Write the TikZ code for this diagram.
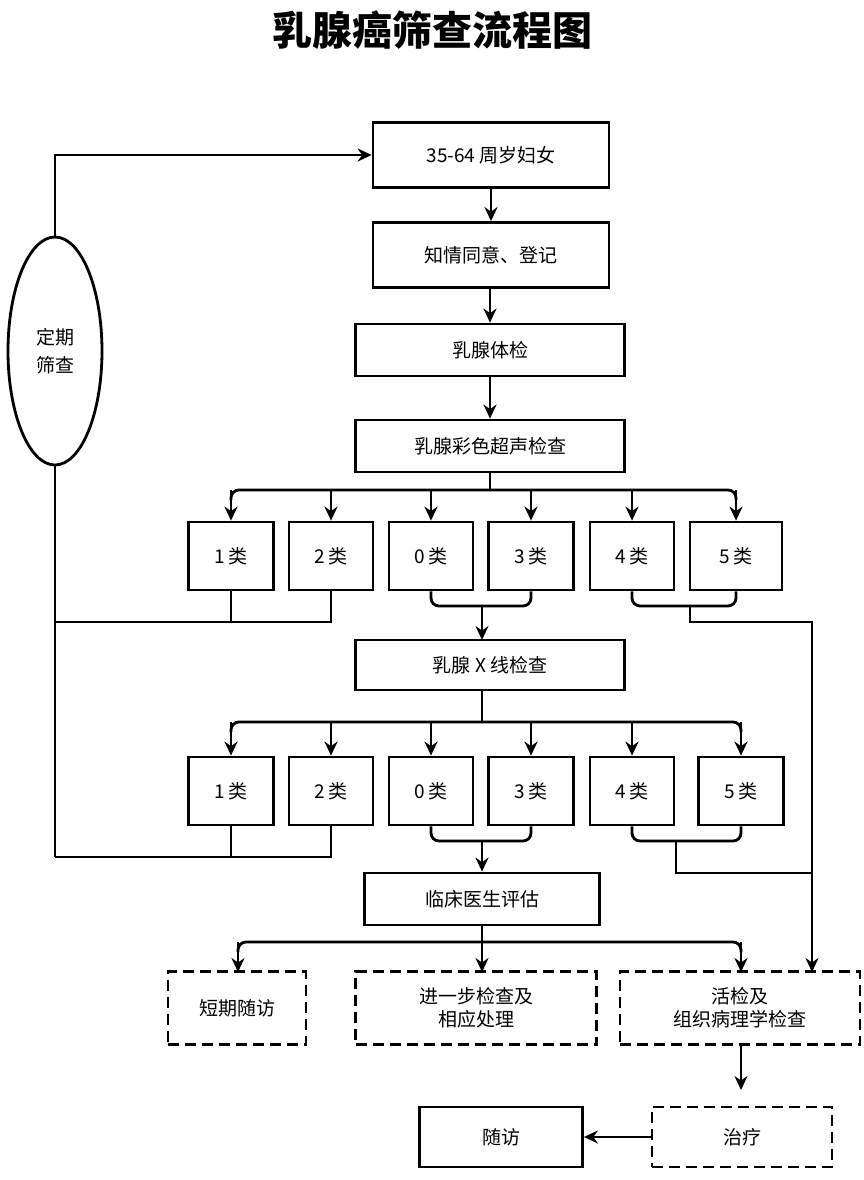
\documentclass[tikz,border=0pt]{standalone}
\usepackage{fontspec}
\setmainfont{Noto Sans CJK SC}
\usetikzlibrary{arrows.meta,calc,shapes.geometric}
\begin{document}
\begin{tikzpicture}[x=1pt,y=-1pt,
 ln/.style={line width=2.8pt,black},
 ar/.style={ln,-{Stealth[length=14pt,width=13pt]}},
 box/.style={draw,line width=2.8pt,minimum height=#1,inner sep=0pt,font=\fontsize{19}{23}\selectfont,align=center},
 dbox/.style={box=#1,dash pattern=on 11pt off 6pt}]
\useasboundingbox (0,0) rectangle (864,1180);
\node[font=\fontsize{40}{46}\selectfont\bfseries] (title) at (432,30) {乳腺癌筛查流程图};
\node[box=65pt,minimum width=236pt] (a) at (491,155) {35-64 周岁妇女};
\node[box=65pt,minimum width=236pt] (b) at (491,255) {知情同意、登记};
\node[box=52pt,minimum width=269pt] (c) at (490,350) {乳腺体检};
\node[box=52pt,minimum width=269pt] (d) at (490,446) {乳腺彩色超声检查};
\node[draw,line width=2.8pt,ellipse,inner sep=0pt,minimum width=94pt,minimum height=228pt,font=\fontsize{19}{28}\selectfont,align=center] (e) at (55,351) {定期\\筛查};
% row 1
\foreach \n/\x/\w/\t in {r1/231/85/1 类,r2/331/84/2 类,r3/431/84/0 类,r4/531/85/3 类,r5/632/84/4 类,r6/736/92/5 类}
  \node[box=68pt,minimum width=\w pt] (\n) at (\x,556) {\t};
\node[box=50pt,minimum width=269pt] (f) at (490,665) {乳腺 X 线检查};
\foreach \n/\x/\w/\t in {s1/231/85/1 类,s2/331/84/2 类,s3/431/84/0 类,s4/531/85/3 类,s5/632/84/4 类,s6/741/85/5 类}
  \node[box=68pt,minimum width=\w pt] (\n) at (\x,791) {\t};
\node[box=52pt,minimum width=235pt] (g) at (482,899) {临床医生评估};
\node[dbox=73pt,minimum width=138pt] (h1) at (237,1008) {短期随访};
\node[dbox=73pt,minimum width=241pt] (h2) at (476,1008) {进一步检查及\\相应处理};
\node[dbox=73pt,minimum width=240pt] (h3) at (740,1008) {活检及\\组织病理学检查};
\node[dbox=60pt,minimum width=180pt] (t) at (742,1137) {治疗};
\node[box=60pt,minimum width=163pt] (v) at (501,1137) {随访};
% coordinates
\coordinate (j1) at (490,490);
\coordinate (j2) at (482,722);
\coordinate (j3) at (482,942);
% main chain
\draw[ar] (a) -- (b);
\draw[ar] (b.south -| c) -- (c);
\draw[ar] (c) -- (d);
% loop
\draw[ar] (e.north) -- (55,155) -- (a.west);
\draw[ln] (e.south) -- (55,857);
% branch 1
\draw[ln] (d.south) -- (j1);
\draw[ln,rounded corners=8pt] (231,500) -- (231,490) -- (736,490) -- (736,500);
\foreach \n in {r1,r2,r3,r4,r5,r6} \draw[ar] (\n.north |- j1) -- (\n.north);
\draw[ln] (r1.south) -- (231,622); \draw[ln] (r2.south) -- (331,622) -- (55,622);
\draw[ln,rounded corners=8pt] (r3.south) -- (431,606) -- (531,606) -- (r4.south);
\draw[ar] (482,606) -- (482,640);
\draw[ln,rounded corners=8pt] (r5.south) -- (632,606) -- (736,606) -- (r6.south);
\draw[ln] (690,606) -- (690,622) -- (812,622) -- (812,873);
\draw[ar] (812,873) -- (812,972);
% branch 2
\draw[ln] (482,690) -- (j2);
\draw[ln,rounded corners=8pt] (231,732) -- (231,722) -- (741,722) -- (741,732);
\foreach \n in {s1,s2,s3,s4,s5,s6} \draw[ar] (\n.north |- j2) -- (\n.north);
\draw[ln] (s1.south) -- (231,857); \draw[ln] (s2.south) -- (331,857) -- (55,857);
\draw[ln,rounded corners=8pt] (s3.south) -- (431,841) -- (531,841) -- (s4.south);
\draw[ar] (482,841) -- (g.north);
\draw[ln,rounded corners=8pt] (s5.south) -- (632,841) -- (741,841) -- (s6.south);
\draw[ln] (676,841) -- (676,873) -- (812,873);
% branch 3
\draw[ln] (g.south) -- (j3);
\draw[ln,rounded corners=8pt] (238,952) -- (238,942) -- (741,942) -- (741,952);
\draw[ar] (238,942) -- (238,972);
\draw[ar] (j3) -- (482,972);
\draw[ar] (741,942) -- (741,972);
\draw[ar] (741,1045) -- (741,1090);
\draw[ar] (t.west) -- (v.east);
\end{tikzpicture}
\end{document}
